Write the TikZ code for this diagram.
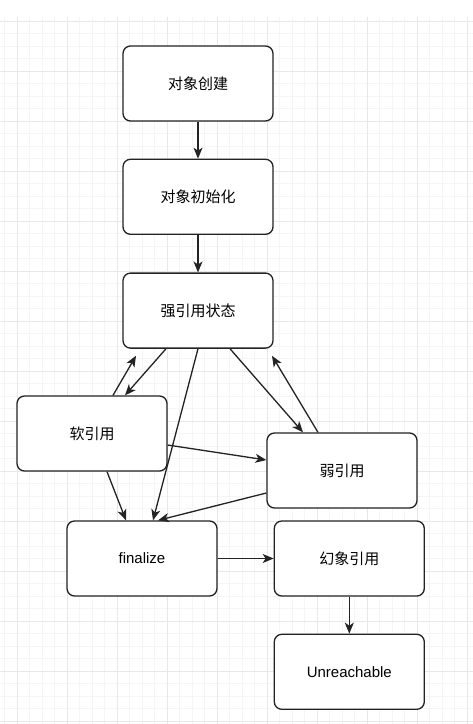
\documentclass[tikz,border=0pt]{standalone}
\usepackage{fontspec}
\setmainfont{Liberation Sans}
\newfontfamily\cjk{Noto Sans CJK SC}
\usepackage{tikz}
\usetikzlibrary{arrows.meta,positioning}
\definecolor{gridminor}{RGB}{245,245,245}
\definecolor{gridmajor}{RGB}{232,232,232}
\definecolor{boxline}{RGB}{35,35,35}

\begin{document}
\begin{tikzpicture}[x=1pt, y=-1pt,
  state/.style={rectangle, rounded corners=7.5pt, draw=boxline, fill=white, line width=1.3pt,
    minimum width=150pt, minimum height=75pt, inner sep=0pt, align=center,
    font=\fontsize{15}{18}\selectfont},
  arr/.style={-{Stealth[length=11pt, width=9pt, inset=3pt]}, boxline, line width=1.3pt}]
\useasboundingbox (0,0) rectangle (473,724);
% grid
\fill[white] (0,0) rectangle (473,724);
\foreach \x in {4.5,17,...,473} \draw[gridminor, line width=1pt] (\x,17) -- (\x,724);
\foreach \y in {21,33.5,...,724} \draw[gridminor, line width=1pt] (0,\y) -- (473,\y);
\foreach \x in {17,67,...,473} \draw[gridmajor, line width=1pt] (\x,17) -- (\x,724);
\foreach \y in {21,71,...,724} \draw[gridmajor, line width=1pt] (0,\y) -- (473,\y);
% states
\node[state] (create) at (198,83.5) {\cjk 对象创建};
\node[state, below=37pt of create] (init) {\cjk 对象初始化};
\node[state, below=37.5pt of init] (strong) {\cjk 强引用状态};
\node[state] (soft) at (92,433.5) {\cjk 软引用};
\node[state] (weak) at (342,470.5) {\cjk 弱引用};
\node[state] (fin) at (142,558.5) {finalize};
\node[state, right=56pt of fin] (ghost) {\cjk 幻象引用};
\node[state, below=37pt of ghost] (unreach) {Unreachable};
% transitions
\draw[arr] (create) -- (init);
\draw[arr] (init) -- (strong);
\draw[arr] ([xshift=-32pt]strong.south) -- ([xshift=33pt]soft.north);
\draw[arr] ([xshift=21pt]soft.north) -- ([xshift=-62pt,yshift=-7pt]strong.south);
\draw[arr] (strong.south) -- ([xshift=11pt]fin.north);
\draw[arr] ([xshift=15pt]soft.south) -- ([xshift=-16pt]fin.north);
\draw[arr] ([yshift=-11.5pt]soft.east) -- ([yshift=10.5pt]weak.west);
\draw[arr] ([xshift=32pt]strong.south) -- ([xshift=-39pt]weak.north);
\draw[arr] ([xshift=-24pt]weak.north) -- ([xshift=74pt,yshift=-7pt]strong.south);
\draw[arr] ([yshift=-22.5pt]weak.west) -- ([xshift=16pt]fin.north);
\draw[arr] (fin) -- (ghost);
\draw[arr] (ghost) -- (unreach);
\end{tikzpicture}
\end{document}
